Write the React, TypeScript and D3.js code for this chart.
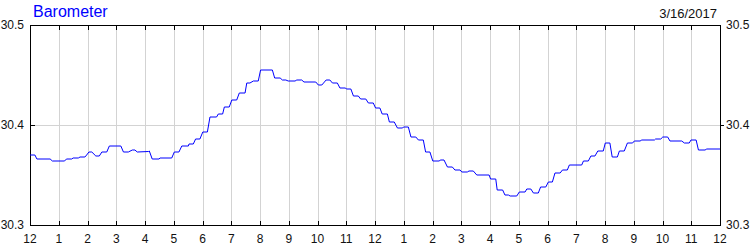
import React from "react";
import * as d3 from "d3";

const title = "Barometer";
const dateLabel = "3/16/2017";

// hours since midnight
const hours = [
  0, 0.17, 0.24, 0.7, 0.78, 1.19, 1.28, 1.45, 1.5, 1.68, 1.74, 1.91, 1.97, 2.05, 2.15, 2.29, 2.41, 2.5, 2.67, 2.76,
  3.16, 3.25, 3.42, 3.56, 3.65, 3.73, 4.12, 4.15, 4.25, 4.49, 4.52, 4.93, 5.02, 5.18, 5.28, 5.51, 5.53, 5.68, 5.76, 5.91,
  6.01, 6.17, 6.26, 6.49, 6.55, 6.7, 6.76, 6.93, 7.02, 7.19, 7.28, 7.48, 7.54, 7.65, 7.77, 7.94, 8.02, 8.43, 8.51, 8.7,
  8.78, 8.9, 8.98, 9.22, 9.28, 9.45, 9.53, 9.94, 10.03, 10.15, 10.3, 10.43, 10.52, 10.69, 10.78, 10.96, 11.02, 11.16, 11.25, 11.42,
  11.5, 11.68, 11.77, 11.94, 12.02, 12.17, 12.25, 12.43, 12.5, 12.67, 12.78, 12.96, 12.99, 13.16, 13.25, 13.42, 13.51, 13.68, 13.76, 13.91,
  14.01, 14.24, 14.27, 14.4, 14.52, 14.69, 14.78, 14.96, 15.02, 15.21, 15.27, 15.42, 15.54, 15.97, 16.02, 16.2, 16.25, 16.44, 16.52, 16.64,
  16.7, 16.93, 17.02, 17.22, 17.28, 17.42, 17.51, 17.68, 17.76, 17.94, 18.03, 18.17, 18.26, 18.44, 18.52, 18.69, 18.76, 19.19, 19.25, 19.42,
  19.51, 19.65, 19.75, 19.94, 20.01, 20.17, 20.25, 20.43, 20.5, 20.67, 20.78, 20.96, 21.02, 21.22, 21.28, 21.72, 21.76, 21.94, 22.01, 22.18,
  22.26, 22.67, 22.76, 22.93, 22.99, 23.17, 23.25, 23.48, 23.54, 24,
];

// barometric pressure (inHg)
const pressure = [
  30.370, 30.370, 30.366, 30.366, 30.364, 30.364, 30.366, 30.366, 30.367, 30.367, 30.368, 30.368, 30.370, 30.373, 30.373, 30.369, 30.369, 30.373, 30.373, 30.379,
  30.379, 30.373, 30.373, 30.375, 30.375, 30.373, 30.3735, 30.374, 30.366, 30.366, 30.367, 30.367, 30.373, 30.373, 30.379, 30.379, 30.381, 30.381, 30.386, 30.386,
  30.393, 30.393, 30.408, 30.408, 30.411, 30.411, 30.418, 30.418, 30.425, 30.425, 30.432, 30.432, 30.442, 30.442, 30.444, 30.444, 30.455, 30.455, 30.447, 30.447,
  30.445, 30.445, 30.444, 30.444, 30.445, 30.445, 30.443, 30.443, 30.440, 30.440, 30.445, 30.445, 30.442, 30.442, 30.437, 30.437, 30.436, 30.436, 30.429, 30.429,
  30.426, 30.426, 30.422, 30.422, 30.417, 30.417, 30.411, 30.411, 30.403, 30.403, 30.397, 30.397, 30.398, 30.398, 30.388, 30.388, 30.385, 30.385, 30.373, 30.373,
  30.364, 30.364, 30.365, 30.365, 30.358, 30.358, 30.355, 30.355, 30.353, 30.353, 30.354, 30.354, 30.350, 30.350, 30.346, 30.346, 30.335, 30.335, 30.330, 30.330,
  30.329, 30.329, 30.333, 30.333, 30.336, 30.336, 30.332, 30.332, 30.338, 30.338, 30.343, 30.343, 30.352, 30.352, 30.355, 30.355, 30.360, 30.360, 30.364, 30.364,
  30.369, 30.369, 30.374, 30.374, 30.382, 30.382, 30.368, 30.368, 30.374, 30.374, 30.382, 30.382, 30.384, 30.384, 30.385, 30.385, 30.386, 30.386, 30.388, 30.388,
  30.384, 30.384, 30.382, 30.382, 30.385, 30.385, 30.375, 30.375, 30.376, 30.376,
];

const yTicks = [30.3, 30.4, 30.5];
const hourLabels = ["12", "1", "2", "3", "4", "5", "6", "7", "8", "9", "10", "11", "12", "1", "2", "3", "4", "5", "6", "7", "8", "9", "10", "11", "12"];

const W = 750;
const H = 250;
const left = 30;
const right = 720;
const top = 25;
const bottom = 225;
const font = "'Liberation Sans', Arial, sans-serif";
const textColor = "#111";

export default function App() {
  const x = d3.scaleLinear().domain([0, 24]).range([left, right]);
  const y = d3.scaleLinear().domain([30.3, 30.5]).range([bottom, top]);
  const pts: [number, number][] = hours.map((h, i) => [h, pressure[i]]);
  const line = d3
    .line<[number, number]>()
    .x((d) => x(d[0]))
    .y((d) => y(d[1]));
  const hourTicks = d3.range(0, 25);

  return (
    <svg
      width={W}
      height={H}
      style={{ position: "absolute", left: 0, top: 0, display: "block" }}
    >
      <rect x={0} y={0} width={W} height={H} fill="#fff" />
      {/* vertical grid */}
      {hourTicks.slice(1, -1).map((h) => (
        <line key={"vg" + h} x1={x(h) + 0.5} x2={x(h) + 0.5} y1={top} y2={bottom} stroke="#d3d3d3" strokeWidth={1} shapeRendering="crispEdges" />
      ))}
      {/* horizontal grid */}
      {yTicks.slice(1, -1).map((v) => (
        <line key={"hg" + v} x1={left} x2={right} y1={Math.round(y(v)) + 0.5} y2={Math.round(y(v)) + 0.5} stroke="#d3d3d3" strokeWidth={1} shapeRendering="crispEdges" />
      ))}
      {/* frame */}
      <rect x={left + 0.5} y={top + 0.5} width={right - left} height={bottom - top} fill="none" stroke="#000" strokeWidth={1} shapeRendering="crispEdges" />
      {/* x ticks inside top/bottom */}
      {hourTicks.slice(1, -1).map((h) => (
        <g key={"xt" + h}>
          <line x1={x(h) + 0.5} x2={x(h) + 0.5} y1={top} y2={top + 5} stroke="#000" shapeRendering="crispEdges" />
          <line x1={x(h) + 0.5} x2={x(h) + 0.5} y1={bottom} y2={bottom - 4} stroke="#000" shapeRendering="crispEdges" />
        </g>
      ))}
      {/* y ticks */}
      {yTicks.slice(1, -1).map((v) => (
        <g key={"yt" + v}>
          <line x1={left} x2={left + 5} y1={Math.round(y(v)) + 0.5} y2={Math.round(y(v)) + 0.5} stroke="#000" shapeRendering="crispEdges" />
          <line x1={right} x2={right + 4} y1={Math.round(y(v)) + 0.5} y2={Math.round(y(v)) + 0.5} stroke="#000" shapeRendering="crispEdges" />
        </g>
      ))}
      {/* y labels */}
      {yTicks.map((v) => (
        <g key={"yl" + v} fontFamily={font} fontSize={12} fill={textColor}>
          <text x={24} y={y(v)} dy="0.36em" textAnchor="end">{v.toFixed(1)}</text>
          <text x={726} y={y(v)} dy="0.36em" textAnchor="start">{v.toFixed(1)}</text>
        </g>
      ))}
      {/* x labels */}
      {hourTicks.map((h, i) => (
        <text key={"xl" + h} x={x(h)} y={243} textAnchor="middle" fontFamily={font} fontSize={12} fill={textColor}>
          {hourLabels[i]}
        </text>
      ))}
      {/* data line */}
      <path d={line(pts) || ""} fill="none" stroke="#0000ff" strokeWidth={1} />
      {/* titles */}
      <text x={33} y={17} fontFamily={font} fontSize={16} fill="#0000ff">{title}</text>
      <text x={717} y={18} textAnchor="end" fontFamily={font} fontSize={13} fill={textColor}>{dateLabel}</text>
    </svg>
  );
}
